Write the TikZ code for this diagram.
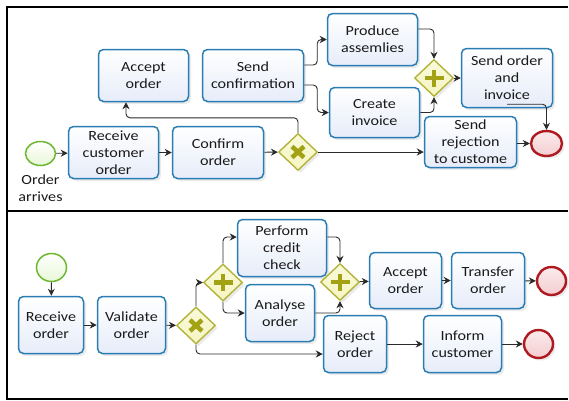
\documentclass[tikz,border=0pt]{standalone}
\usepackage{fontspec}
\setmainfont{Carlito}[FakeStretch=1.15]
\usetikzlibrary{shapes.geometric,arrows.meta,shadows,calc}

\definecolor{taskblue}{HTML}{2A7DB3}
\definecolor{taskfill}{HTML}{E6ECF9}
\definecolor{gwline}{HTML}{B3B33A}
\definecolor{gwfill}{HTML}{F5F5C2}
\definecolor{gwsym}{HTML}{A2A214}
\definecolor{endline}{HTML}{AE1A20}
\definecolor{endfill}{HTML}{F4CDD0}
\definecolor{startline}{HTML}{6DB733}
\definecolor{startfill}{HTML}{E8F7D6}
\definecolor{txt}{HTML}{1A1A1A}
\definecolor{flowc}{HTML}{2A2A2A}

\begin{document}
\begin{tikzpicture}[x=1pt,y=-1pt,
  every node/.style={font=\fontsize{14}{17}\selectfont, text=txt},
  softshadow/.style={drop shadow={opacity=0.16, shadow xshift=2.5pt, shadow yshift=-2.5pt}},
  task/.style={rectangle, rounded corners=5pt, draw=taskblue, line width=1.5pt,
    top color=white, bottom color=taskfill, align=center, inner sep=0pt, softshadow},
  gate/.style={diamond, draw=gwline, line width=1.4pt, top color=white!40!gwfill, bottom color=gwfill,
    inner sep=0pt, minimum width=39pt, minimum height=37pt, softshadow},
  xorgate/.style={gate, path picture={
    \draw[gwsym, line width=4.5pt]
      ($(path picture bounding box.center)+(-6pt,-5.5pt)$) -- ++(12pt,11pt)
      ($(path picture bounding box.center)+(-6pt,5.5pt)$) -- ++(12pt,-11pt);}},
  andgate/.style={gate, path picture={
    \draw[gwsym, line width=4.5pt]
      ($(path picture bounding box.center)+(-9.5pt,0pt)$) -- ++(19pt,0pt)
      ($(path picture bounding box.center)+(0pt,-8.5pt)$) -- ++(0pt,17pt);}},
  startev/.style={ellipse, draw=startline, line width=1.5pt, top color=white,
    bottom color=startfill, inner sep=0pt},
  endev/.style={ellipse, draw=endline, line width=2.4pt, top color=white!60!endfill,
    bottom color=endfill, inner sep=0pt, softshadow},
  lbl/.style={align=center, inner sep=0pt},
  flow/.style={draw=flowc, line width=0.9pt, rounded corners=4pt,
    -{Stealth[length=7pt,width=7pt]}},
  frame/.style={line width=2pt, black}
]
\useasboundingbox (0,0) rectangle (569,400);

% outer frame and pool separator
\draw[frame] (568,7) -- (7,7) -- (7,399) -- (568,399);
\draw[frame] (7,211) -- (568,211);

% ---------- upper process ----------
\node[startev, minimum width=30pt, minimum height=24pt] (s1) at (40.5,153.5) {};
\node[lbl] (s1l) at (40.5,188) {Order\\arrives};
\node[task, minimum width=90pt, minimum height=52pt] (recv) at (113.5,152.5) {Receive\\customer\\order};
\node[task, minimum width=91pt, minimum height=52pt] (conf) at (218,152.5) {Confirm\\order};
\node[xorgate] (x1) at (298,152) {};
\node[task, minimum width=90pt, minimum height=52pt] (acc) at (143.5,75.5) {Accept\\order};
\node[task, minimum width=101pt, minimum height=52pt] (scnf) at (253,75.5) {Send\\confirmation};
\node[task, minimum width=90pt, minimum height=52pt] (prod) at (372.5,39.5) {Produce\\assemlies};
\node[task, minimum width=90pt, minimum height=50pt] (inv) at (374.5,112.5) {Create\\invoice};
\node[andgate] (a1) at (434,78) {};
\node[task, minimum width=91pt, minimum height=59pt] (soi) at (507,78) {Send order\\and\\invoice};
\node[task, minimum width=92pt, minimum height=51pt] (rej) at (470.5,142) {Send\\rejection\\to custome};
\node[endev, minimum width=31pt, minimum height=25pt] (e1) at (546.5,143.5) {};

\draw[flow] (s1) -- (recv);
\draw[flow] (recv) -- (conf);
\draw[flow] (conf) -- (x1);
\draw[flow] (x1.north) -- ++(0,-15) -| ([xshift=-17.5pt]acc.south);
\draw[flow] (x1.east) -- (x1.east -| rej.west);
\draw[flow] ([yshift=10.5pt]scnf.east) -- ++(13,0) |- (prod.west);
\draw[flow] ([yshift=-9.5pt]scnf.east) -- ++(13,0) |- (inv.west);
\draw[flow] ([yshift=10.5pt]prod.east) -| (a1.north);
\draw[flow] (inv.east) -| (a1.south);
\draw[flow] (a1) -- (soi);
\draw[flow] ([yshift=4pt]soi.south) -| (e1.north);
\draw[flow] (rej.east |- e1.west) -- (e1.west);

% ---------- lower process ----------
\node[startev, minimum width=30pt, minimum height=28pt] (s2) at (51.5,267.5) {};
\node[task, minimum width=65pt, minimum height=57pt] (recv2) at (51,325) {Receive\\order};
\node[task, minimum width=68pt, minimum height=57pt] (val) at (131.5,325) {Validate\\order};
\node[xorgate] (x2) at (196,325.5) {};
\node[andgate] (a2) at (223,282.5) {};
\node[task, minimum width=89pt, minimum height=57pt] (pcc) at (282,248) {Perform\\credit\\check};
\node[task, minimum width=69pt, minimum height=57pt] (ana) at (280,313) {Analyse\\order};
\node[andgate] (a3) at (340,282) {};
\node[task, minimum width=72pt, minimum height=56pt] (acc2) at (405.5,280.5) {Accept\\order};
\node[task, minimum width=73pt, minimum height=56pt] (tra) at (488,280.5) {Transfer\\order};
\node[endev, minimum width=29pt, minimum height=28pt] (e2) at (551.5,281) {};
\node[task, minimum width=63pt, minimum height=57pt] (rej2) at (355,344) {Reject\\order};
\node[task, minimum width=78pt, minimum height=57pt] (inf) at (462.5,344) {Inform\\customer};
\node[endev, minimum width=29pt, minimum height=28pt] (e3) at (538.5,344) {};

\draw[flow] (s2) -- (recv2);
\draw[flow] (recv2) -- (val);
\draw[flow] (val) -- (x2);
\draw[flow] (x2.north) |- (a2.west);
\draw[flow] (x2.south) |- ([yshift=-10pt]rej2.west);
\draw[flow] (a2.north) |- ([yshift=11pt]pcc.west);
\draw[flow] (a2.south) |- (ana.west);
\draw[flow] ([yshift=11pt]pcc.east) -| (a3.north);
\draw[flow] (ana.east) -| (a3.south);
\draw[flow] (a3) -- (acc2);
\draw[flow] (acc2) -- (tra);
\draw[flow] (tra) -- (e2);
\draw[flow] (rej2) -- (inf);
\draw[flow] (inf) -- (e3);
\end{tikzpicture}
\end{document}
